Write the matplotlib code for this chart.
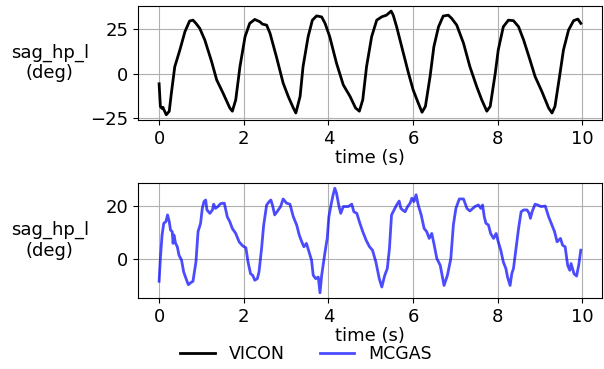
import matplotlib.pyplot as plt

# VICON hip sagittal angle (deg)
t_vicon = [0.00, 0.03, 0.07, 0.09, 0.12, 0.17, 0.24, 0.29, 0.37, 0.49, 0.61, 0.72, 0.80, 0.87, 0.96,
           1.08, 1.24, 1.36, 1.51, 1.67, 1.73, 1.81, 1.91, 2.03, 2.14, 2.26, 2.38, 2.44, 2.54, 2.62,
           2.77, 2.93, 3.05, 3.17, 3.23, 3.33, 3.40, 3.52, 3.62, 3.72, 3.84, 3.92, 4.03, 4.19, 4.35,
           4.51, 4.64, 4.73, 4.81, 4.90, 5.02, 5.14, 5.26, 5.37, 5.48, 5.53, 5.61, 5.73, 5.89, 6.00,
           6.12, 6.21, 6.29, 6.40, 6.49, 6.60, 6.71, 6.83, 6.91, 7.03, 7.19, 7.34, 7.50, 7.62, 7.74,
           7.82, 7.94, 8.01, 8.13, 8.25, 8.37, 8.49, 8.61, 8.76, 8.88, 9.04, 9.20, 9.28, 9.35, 9.47,
           9.55, 9.67, 9.79, 9.89, 9.96]
v_vicon = [-5.6, -18.3, -19.5, -18.8, -20.5, -23.0, -21.0, -10.8, 4.0, 13.4, 23.7, 29.7, 30.2, 28.4, 25.6,
           19.0, 6.9, -3.4, -10.8, -19.2, -21.0, -14.6, 4.1, 20.9, 28.4, 30.6, 29.3, 28.0, 27.4, 22.8,
           9.7, -5.2, -12.7, -19.2, -22.0, -12.7, 4.1, 20.9, 30.2, 32.6, 32.0, 28.4, 20.9, 6.0, -6.2,
           -12.7, -19.2, -21.0, -14.6, 4.1, 20.9, 30.2, 32.1, 33.0, 35.3, 33.0, 26.5, 15.3, 0.4, -9.0,
           -16.4, -21.6, -18.3, -1.5, 15.3, 26.5, 32.5, 33.0, 31.2, 27.4, 17.2, 4.1, -7.1, -14.6, -21.0,
           -18.3, 0.4, 13.4, 26.5, 30.2, 29.9, 26.5, 19.0, 7.8, -1.5, -9.9, -19.2, -22.0, -18.3, 0.4,
           13.4, 24.6, 29.9, 30.8, 28.4]

# MCGAS estimate (deg)
t_mcgas = [0.00, 0.03, 0.07, 0.11, 0.16, 0.20, 0.24, 0.27, 0.31, 0.33, 0.35, 0.39, 0.43, 0.47, 0.53,
           0.58, 0.65, 0.69, 0.75, 0.80, 0.87, 0.92, 0.98, 1.02, 1.06, 1.10, 1.13, 1.20, 1.26, 1.29,
           1.33, 1.39, 1.45, 1.54, 1.61, 1.67, 1.73, 1.81, 1.89, 1.97, 2.05, 2.10, 2.16, 2.21, 2.26,
           2.32, 2.36, 2.42, 2.47, 2.54, 2.60, 2.64, 2.68, 2.73, 2.79, 2.87, 2.93, 3.01, 3.09, 3.17,
           3.25, 3.31, 3.37, 3.42, 3.48, 3.54, 3.60, 3.64, 3.70, 3.76, 3.80, 3.84, 3.92, 3.97, 4.01,
           4.06, 4.11, 4.15, 4.19, 4.25, 4.29, 4.35, 4.47, 4.55, 4.60, 4.67, 4.73, 4.81, 4.89, 4.97,
           5.04, 5.12, 5.20, 5.26, 5.33, 5.39, 5.44, 5.49, 5.57, 5.61, 5.67, 5.71, 5.75, 5.81, 5.87,
           5.93, 5.97, 6.02, 6.07, 6.12, 6.19, 6.26, 6.32, 6.38, 6.44, 6.49, 6.56, 6.64, 6.73, 6.81,
           6.89, 6.95, 7.01, 7.09, 7.19, 7.27, 7.34, 7.46, 7.54, 7.60, 7.64, 7.68, 7.72, 7.78, 7.83,
           7.90, 7.96, 8.01, 8.07, 8.13, 8.19, 8.23, 8.29, 8.33, 8.37, 8.43, 8.49, 8.55, 8.61, 8.69,
           8.74, 8.77, 8.81, 8.88, 8.94, 9.02, 9.12, 9.20, 9.28, 9.34, 9.40, 9.48, 9.53, 9.59, 9.65,
           9.70, 9.73, 9.80, 9.86, 9.91, 9.96]
v_mcgas = [-8.7, 0.0, 9.0, 13.5, 14.1, 16.7, 14.1, 10.9, 10.3, 5.8, 9.0, 5.8, 4.5, 1.3, -0.6,
           -5.1, -8.3, -10.0, -9.2, -8.7, -1.3, 10.3, 13.5, 19.2, 21.8, 22.4, 18.6, 17.3, 18.6, 20.8,
           19.2, 19.9, 21.0, 21.2, 16.0, 14.1, 11.5, 9.6, 6.4, 4.9, 4.1, -1.3, -5.8, -6.4, -8.3,
           -7.7, -5.1, 3.8, 12.8, 20.5, 21.8, 22.4, 20.3, 16.7, 18.0, 19.9, 22.8, 21.2, 20.8, 16.0,
           12.8, 9.0, 6.4, 4.5, 5.8, 2.6, -0.6, -6.4, -7.7, -7.1, -13.1, -6.4, 2.6, 7.7, 16.0,
           20.5, 24.4, 26.9, 25.0, 19.9, 17.3, 19.9, 19.9, 20.8, 17.9, 17.3, 14.1, 10.3, 7.0, 4.5,
           3.2, -1.3, -7.7, -10.9, -6.4, -3.8, 3.8, 16.7, 19.2, 20.5, 22.0, 19.2, 18.6, 17.9, 19.9,
           21.2, 23.1, 21.8, 24.4, 20.5, 16.7, 11.5, 10.3, 7.7, 9.6, 5.8, 0.0, -2.6, -10.3, -6.4,
           0.0, 12.8, 19.2, 22.8, 22.8, 19.2, 18.2, 19.9, 20.5, 19.2, 20.5, 16.0, 13.5, 12.8, 9.6,
           7.7, 9.6, 6.4, 3.2, -1.3, -3.8, -7.1, -10.3, -5.8, -3.8, 3.8, 11.5, 17.9, 18.6, 18.6,
           17.3, 15.4, 17.9, 20.8, 20.5, 19.9, 20.1, 16.0, 12.8, 10.3, 6.4, 7.7, 5.1, 4.5, -2.6,
           -4.5, -1.9, -5.8, -6.7, -2.6, 3.2]

plt.rcParams['font.size'] = 13

fig = plt.figure(figsize=(6.04, 3.69), dpi=100)
ax1 = fig.add_axes([0.2285, 0.675, 0.768, 0.309])
ax2 = fig.add_axes([0.2285, 0.1924, 0.768, 0.3116])

ax1.plot(t_vicon, v_vicon, color='black', lw=2, label='VICON')
ax2.plot(t_mcgas, v_mcgas, color='blue', alpha=0.7, lw=2, label='MCGAS')

for ax in (ax1, ax2):
    ax.grid(True)
    ax.set_xlabel('time (s)', labelpad=1)
    ax.set_ylabel('sag_hp_l\n(deg)', rotation=0, ha='center', va='center')
    ax.yaxis.set_label_coords(-0.19, 0.5)
    ax.set_xticks([0, 2, 4, 6, 8, 10])

ax1.set_yticks([-25, 0, 25])
ax2.set_yticks([0, 20])

fig.legend(loc='lower center', bbox_to_anchor=(0.507, -0.025), ncol=2, frameon=False,
           fontsize=12.5)

fig.savefig('out.png', dpi=100)
